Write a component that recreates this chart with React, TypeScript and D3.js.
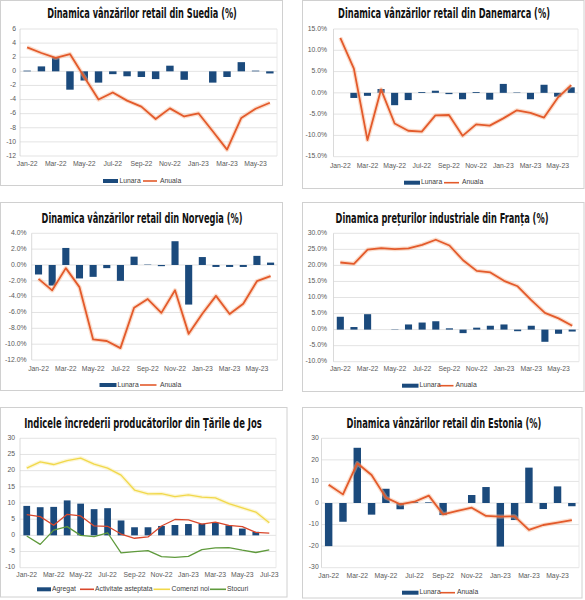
import React, { useLayoutEffect, useRef, useState } from 'react';
import * as d3 from 'd3';

// categories
const months18 = [
  'Jan-22', 'Feb-22', 'Mar-22', 'Apr-22', 'May-22', 'Jun-22', 'Jul-22', 'Aug-22', 'Sep-22',
  'Oct-22', 'Nov-22', 'Dec-22', 'Jan-23', 'Feb-23', 'Mar-23', 'Apr-23', 'May-23', 'Jun-23',
];
const months19 = [...months18, 'Jul-23'];

// Suedia
const seLunara = [0.1, 0.7, 2.0, -2.6, -1.3, -1.6, -0.4, -0.7, -0.8, -1.1, 0.8, -1.2, 0, -1.6, -0.8, 1.3, 0.1, -0.3];
const seAnuala = [3.4, 2.6, 1.9, 2.45, -0.8, -4.0, -3.0, -4.15, -5.0, -6.75, -5.25, -6.4, -5.95, -8.5, -11.1, -6.6, -5.3, -4.45];

// Danemarca
const dkLunara = [0, -1.2, -0.7, 0.9, -2.9, -1.7, 0.2, 0.5, -0.3, -1.5, 0.2, -1.6, 2.1, 0.1, -1.5, 1.9, -0.9, 1.3];
const dkAnuala = [12.9, 5.7, -11.1, 0.8, -7.2, -8.9, -9.1, -5.3, -5.2, -10.1, -7.4, -7.7, -6.0, -4.1, -4.7, -5.8, -1.2, 1.8];

// Norvegia
const noLunara = [-1.2, -2.6, 2.15, -1.7, -1.5, -0.4, -2.0, 1.05, 0.05, -0.15, 3.0, -5.0, 1.0, -0.25, -0.25, -0.25, 1.15, 0.3];
const noAnuala = [-1.75, -3.2, -0.4, -2.8, -9.4, -9.6, -10.5, -5.4, -4.3, -6.05, -3.2, -8.7, -6.15, -3.9, -6.2, -4.9, -2.05, -1.4];

// Franta
const frLunara = [4.0, 0.8, 4.8, 0, 0.1, 1.6, 2.2, 2.6, 0.4, -1.1, 0.6, 1.2, 1.6, -0.5, 1.2, -3.8, -1.3, -0.6];
const frAnuala = [20.9, 20.5, 24.9, 25.4, 25.1, 25.3, 26.4, 28.0, 26.2, 21.6, 18.3, 17.8, 15.2, 13.5, 9.2, 5.2, 3.5, 1.2];

// Tarile de Jos
const nlAgregat = [9.1, 8.7, 8.8, 10.8, 9.8, 8.1, 8.4, 4.6, 2.5, 2.5, 2.9, 3.2, 3.5, 3.6, 3.9, 3.1, 2.1, 1.1, 0];
const nlActivitate = [6.4, 5.8, 3.1, 6.5, 6.0, 2.9, 2.8, 0.4, -0.9, -0.5, 2.9, 4.9, 4.8, 3.5, 4.1, 3.1, 2.7, 0.9, 0.7];
const nlComenzi = [20.8, 22.7, 21.9, 23.1, 23.9, 22.0, 20.8, 18.6, 14.0, 12.8, 12.9, 12.0, 12.5, 11.8, 11.6, 9.8, 8.5, 7.2, 3.9];
const nlStocuri = [-0.2, -2.8, 1.6, 2.7, 0.0, -0.4, 0.8, -5.4, -5.0, -4.7, -6.6, -6.8, -6.5, -4.4, -3.9, -3.8, -4.6, -5.3, -4.5];

// Estonia
const eeLunara = [-20, -8.7, 25.6, -5.4, 6.6, -2.9, 0.5, 0.3, -5.6, 0, 3.7, 7.4, -20.2, -7.9, 16.4, -2.8, 7.7, -1.5];
const eeAnuala = [8.5, 4.0, 18.4, 13.0, 2.5, -0.6, 0.6, 3.4, -5.3, -3.7, -2.2, -6.0, -6.3, -6.2, -12.5, -10.2, -9.1, -7.9];

const BAR = '#1b4a7c';
const ORANGE = '#e35a2b';
const FONT = '"Liberation Sans", Arial, sans-serif';
const TITLE_FONT = '"Liberation Sans Narrow", "DejaVu Sans Condensed", sans-serif';

interface LineDef { values: number[]; color: string; width: number; glow?: string }
interface LegendDef { kind: 'bar' | 'line'; color: string; label: string; x0: number; x1: number; tx: number }

interface PanelProps {
  box: [number, number, number, number];
  title: string;
  titleX: number; titleY: number; titleW: number;
  plot: { left: number; right: number; top: number; bottom: number };
  yDomain: [number, number];
  yStep: number;
  fmt: (v: number) => string;
  yLabelX: number;
  labelY: number;
  categories: string[];
  bars: number[];
  barFrac: number;
  lines: LineDef[];
  legend: LegendDef[];
  legendY: number;
}

// tall condensed title: fixed font size, squeezed horizontally to the reference width
function Title({ x, y, w, text }: { x: number; y: number; w: number; text: string }) {
  const ref = useRef<SVGTextElement>(null);
  const [sx, setSx] = useState(1);
  useLayoutEffect(() => {
    if (!ref.current) return;
    const len = ref.current.getComputedTextLength();
    if (len > 0) setSx(w / len);
  }, [w, text]);
  return (
    <g transform={`translate(${x},${y}) scale(${sx},1)`}>
      <text ref={ref} x={0} y={0} textAnchor="middle" fontFamily={TITLE_FONT} fontWeight="bold"
        fontSize={14} fill="#111">{text}</text>
    </g>
  );
}

function Panel(p: PanelProps) {
  const x = d3.scaleBand<string>().domain(p.categories).range([p.plot.left, p.plot.right]).padding(0);
  const y = d3.scaleLinear().domain(p.yDomain).range([p.plot.bottom, p.plot.top]);
  const ticks = d3.range(p.yDomain[0], p.yDomain[1] + p.yStep / 2, p.yStep);
  const cx = (c: string) => x(c)! + x.bandwidth() / 2;
  const bw = x.bandwidth() * p.barFrac;
  const line = (vals: number[]) =>
    d3.line<number>().x((_, i) => cx(p.categories[i])).y((v) => y(v))(vals)!;
  const [bx, by, bwid, bh] = p.box;

  return (
    <g>
      <rect x={bx} y={by} width={bwid} height={bh} fill="#fff" stroke="#d0d0d0" strokeWidth={1} />
      <Title x={p.titleX} y={p.titleY} w={p.titleW} text={p.title} />
      {ticks.map((t) => (
        <g key={t}>
          <line x1={p.plot.left} x2={p.plot.right} y1={y(t)} y2={y(t)} stroke="#dcdcdc" strokeWidth={0.8} />
          <text x={p.yLabelX} y={y(t)} textAnchor="end" dominantBaseline="middle" fontFamily={FONT}
            fontSize={6.8} fill="#595959">{p.fmt(t)}</text>
        </g>
      ))}
      <line x1={p.plot.left} x2={p.plot.left} y1={p.plot.top} y2={p.plot.bottom} stroke="#d0d0d0" strokeWidth={0.8} />
      <line x1={p.plot.right} x2={p.plot.right} y1={p.plot.top} y2={p.plot.bottom} stroke="#e4e4e4" strokeWidth={0.8} />
      {p.bars.map((v, i) => (
        <rect key={i} x={cx(p.categories[i]) - bw / 2} y={Math.min(y(v), y(0))} width={bw}
          height={Math.abs(y(v) - y(0))} fill={BAR} />
      ))}
      {p.lines.map((l, i) => (
        <g key={i}>
          {l.glow && <path d={line(l.values)} fill="none" stroke={l.glow} strokeWidth={l.width + 2.5}
            strokeOpacity={0.45} strokeLinejoin="round" />}
          <path d={line(l.values)} fill="none" stroke={l.color} strokeWidth={l.width} strokeLinejoin="round" />
        </g>
      ))}
      {p.categories.map((c, i) => i % 2 === 0 && (
        <text key={c} x={cx(c)} y={p.labelY} textAnchor="middle" dominantBaseline="middle"
          fontFamily={FONT} fontSize={6.8} fill="#595959">{c}</text>
      ))}
      {p.legend.map((l) => (
        <g key={l.label}>
          {l.kind === 'bar'
            ? <rect x={l.x0} y={p.legendY - 2} width={l.x1 - l.x0} height={4} fill={l.color} />
            : <line x1={l.x0} x2={l.x1} y1={p.legendY} y2={p.legendY} stroke={l.color} strokeWidth={1.6} />}
          <text x={l.tx} y={p.legendY} dominantBaseline="middle" fontFamily={FONT} fontSize={6.8}
            fill="#404040">{l.label}</text>
        </g>
      ))}
    </g>
  );
}

const num = (v: number) => String(v);
const pct = (v: number) => `${v.toFixed(1)}%`;

export default function App() {
  const stdLegend = (a: number, b: number, c: number, d: number, e: number, f: number): LegendDef[] => [
    { kind: 'bar', color: BAR, label: 'Lunara', x0: a, x1: b, tx: c },
    { kind: 'line', color: ORANGE, label: 'Anuala', x0: d, x1: e, tx: f },
  ];
  const stdLines = (vals: number[]): LineDef[] => [{ values: vals, color: ORANGE, width: 1.8, glow: '#f6b48f' }];

  return (
    <svg width={585} height={600} style={{ position: 'absolute', left: 0, top: 0, background: '#fff' }}>
      <rect width={585} height={600} fill="#fff" />
      <Panel box={[0.5, 0.5, 282, 185]} title="Dinamica vânzărilor retail din Suedia (%)"
        titleX={142} titleY={18} titleW={190}
        plot={{ left: 20, right: 277, top: 29, bottom: 156 }} yDomain={[-12, 6]} yStep={2} fmt={num}
        yLabelX={16} labelY={164.5} categories={months18} bars={seLunara} barFrac={0.52}
        lines={stdLines(seAnuala)} legend={stdLegend(103, 118, 119.5, 143, 157, 160)} legendY={181} />
      <Panel box={[302.5, 0.5, 281.5, 188]} title="Dinamica vânzărilor retail din Danemarca (%)"
        titleX={444} titleY={18} titleW={212}
        plot={{ left: 333.5, right: 578, top: 29, bottom: 156.7 }} yDomain={[-15, 15]} yStep={5} fmt={pct}
        yLabelX={327} labelY={166} categories={months18} bars={dkLunara} barFrac={0.52}
        lines={stdLines(dkAnuala)} legend={stdLegend(404, 420, 421, 444, 459, 462)} legendY={182.7} />
      <Panel box={[0.5, 202.5, 282, 188]} title="Dinamica vânzărilor retail din Norvegia (%)"
        titleX={142} titleY={222.5} titleW={201}
        plot={{ left: 31.7, right: 277.4, top: 233.3, bottom: 360 }} yDomain={[-12, 4]} yStep={2} fmt={pct}
        yLabelX={26.5} labelY={369} categories={months18} bars={noLunara} barFrac={0.52}
        lines={stdLines(noAnuala)} legend={stdLegend(99.5, 116.5, 117.5, 140, 156.5, 160)} legendY={385} />
      <Panel box={[302.5, 202.5, 281.5, 189]} title="Dinamica prețurilor industriale din Franța (%)"
        titleX={442} titleY={222.5} titleW={213}
        plot={{ left: 333.5, right: 579, top: 233.3, bottom: 361.7 }} yDomain={[-10, 30]} yStep={5} fmt={pct}
        yLabelX={327} labelY={369.5} categories={months18} bars={frLunara} barFrac={0.52}
        lines={stdLines(frAnuala)} legend={stdLegend(402, 418.5, 419.5, 438.5, 453.5, 455.5)} legendY={385.7} />
      <Panel box={[0.5, 407.5, 286.5, 189.5]} title="Indicele încrederii producătorilor din Țările de Jos"
        titleX={143} titleY={427.5} titleW={238}
        plot={{ left: 20, right: 276, top: 438.3, bottom: 567.7 }} yDomain={[-10, 30]} yStep={5} fmt={num}
        yLabelX={15} labelY={575} categories={months19} bars={nlAgregat} barFrac={0.5}
        lines={[
          { values: nlActivitate, color: '#d9472b', width: 1.3 },
          { values: nlComenzi, color: '#f1d84a', width: 1.3, glow: '#f8eca0' },
          { values: nlStocuri, color: '#5f9a3c', width: 1.3 },
        ]}
        legend={[
          { kind: 'bar', color: BAR, label: 'Agregat', x0: 37, x1: 51, tx: 52 },
          { kind: 'line', color: '#d9472b', label: 'Activitate asteptata', x0: 80, x1: 94, tx: 95 },
          { kind: 'line', color: '#f1d84a', label: 'Comenzi noi', x0: 153.5, x1: 170, tx: 171.5 },
          { kind: 'line', color: '#5f9a3c', label: 'Stocuri', x0: 210, x1: 226, tx: 227 },
        ]} legendY={589.3} />
      <Panel box={[302.5, 407.5, 279.5, 190.5]} title="Dinamica vânzărilor retail din Estonia (%)"
        titleX={444} titleY={427.5} titleW={195}
        plot={{ left: 321.5, right: 579, top: 438.3, bottom: 567.7 }} yDomain={[-30, 30]} yStep={10} fmt={num}
        yLabelX={318.7} labelY={576.7} categories={months18} bars={eeLunara} barFrac={0.52}
        lines={stdLines(eeAnuala)} legend={stdLegend(402, 418.5, 419.5, 440, 455, 457)} legendY={592.7} />
    </svg>
  );
}
